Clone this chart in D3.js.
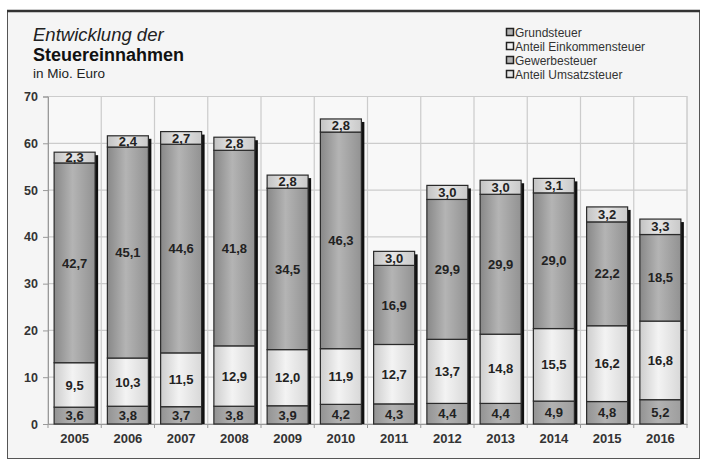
<!DOCTYPE html>
<html>
<head>
<meta charset="utf-8">
<script src="https://cdn.jsdelivr.net/npm/d3@7"></script>
<style>
  html, body { margin: 0; padding: 0; background: #ffffff; }
  svg { display: block; font-family: "Liberation Sans", Arial, sans-serif; }
</style>
</head>
<body>
<svg id="chart" width="702" height="464"></svg>
<script>
// Steuereinnahmen je Jahr, in Mio. Euro
const years = ["2005","2006","2007","2008","2009","2010","2011","2012","2013","2014","2015","2016"];
const grundsteuer      = [3.6, 3.8, 3.7, 3.8, 3.9, 4.2, 4.3, 4.4, 4.4, 4.9, 4.8, 5.2];
const einkommensteuer  = [9.5, 10.3, 11.5, 12.9, 12.0, 11.9, 12.7, 13.7, 14.8, 15.5, 16.2, 16.8];
const gewerbesteuer    = [42.7, 45.1, 44.6, 41.8, 34.5, 46.3, 16.9, 29.9, 29.9, 29.0, 22.2, 18.5];
const umsatzsteuer     = [2.3, 2.4, 2.7, 2.8, 2.8, 2.8, 3.0, 3.0, 3.0, 3.1, 3.2, 3.3];
const seriesNames = ["Grundsteuer", "Anteil Einkommensteuer", "Gewerbesteuer", "Anteil Umsatzsteuer"];
const yTicks = [0, 10, 20, 30, 40, 50, 60, 70];

const keys = ["g", "e", "w", "u"];
const rows = years.map((y, i) => ({
  year: y, g: grundsteuer[i], e: einkommensteuer[i], w: gewerbesteuer[i], u: umsatzsteuer[i]
}));
const stacked = d3.stack().keys(keys)(rows);

const svg = d3.select("#chart");

// outer frame
svg.append("rect").attr("x", 7.5).attr("y", 11).attr("width", 692).attr("height", 447.5)
  .attr("fill", "#f5f5f5").attr("stroke", "#555").attr("stroke-width", 1);
svg.append("line").attr("x1", 7).attr("x2", 700).attr("y1", 11).attr("y2", 11)
  .attr("stroke", "#333").attr("stroke-width", 2.5);

const plot = { left: 48, right: 687, top: 96.5, bottom: 424 };
const x = d3.scaleBand().domain(years).range([plot.left, plot.right]).paddingInner(0).paddingOuter(0);
const y = d3.scaleLinear().domain([0, 70]).range([plot.bottom, plot.top]);

// gradients: darker at the bar edges, lighter in the middle
const defs = svg.append("defs");
const fills = [
  ["#939393", "#b2b2b2", "#9e9e9e"],  // Grundsteuer
  ["#cdcdcd", "#f3f3f3", "#d8d8d8"],  // Anteil Einkommensteuer
  ["#888888", "#b4b4b4", "#929292"],  // Gewerbesteuer
  ["#c2c2c2", "#e6e6e6", "#c9c9c9"]   // Anteil Umsatzsteuer
];
fills.forEach((c, i) => {
  const g = defs.append("linearGradient").attr("id", "grad" + i)
    .attr("x1", "0%").attr("x2", "100%").attr("y1", "0%").attr("y2", "0%");
  g.append("stop").attr("offset", "0%").attr("stop-color", c[0]);
  g.append("stop").attr("offset", "45%").attr("stop-color", c[1]);
  g.append("stop").attr("offset", "100%").attr("stop-color", c[2]);
});

// plot background
svg.append("rect").attr("x", plot.left).attr("y", plot.top)
  .attr("width", plot.right - plot.left).attr("height", plot.bottom - plot.top)
  .attr("fill", "#f8f8f8").attr("stroke", "#b8b8b8");

// horizontal grid
svg.append("g").selectAll("line").data(yTicks.filter(t => t > 0)).join("line")
  .attr("x1", plot.left).attr("x2", plot.right)
  .attr("y1", d => y(d)).attr("y2", d => y(d))
  .attr("stroke", "#cccccc").attr("stroke-width", 1.2);

// vertical grid at category boundaries
svg.append("g").selectAll("line").data(years.slice(1)).join("line")
  .attr("x1", d => x(d)).attr("x2", d => x(d))
  .attr("y1", plot.top).attr("y2", plot.bottom)
  .attr("stroke", "#cccccc").attr("stroke-width", 1.2);

// y axis
const yAxis = d3.axisLeft(y).tickValues(yTicks).tickSize(5).tickPadding(5).tickFormat(d3.format("d"));
const ya = svg.append("g").attr("transform", `translate(${plot.left},0)`).call(yAxis);
ya.select(".domain").attr("stroke", "#999");
ya.selectAll(".tick line").attr("stroke", "#999");
ya.selectAll("text").attr("font-size", 12.5).attr("font-weight", "bold").attr("fill", "#333");

// x axis
const xAxis = d3.axisBottom(x).tickSize(0).tickPadding(10);
const xa = svg.append("g").attr("transform", `translate(0,${plot.bottom})`).call(xAxis);
xa.select(".domain").attr("stroke", "#999");
xa.selectAll("text").attr("font-size", 13).attr("font-weight", "bold").attr("fill", "#333");
svg.append("g").selectAll("line").data(years.concat(["end"])).join("line")
  .attr("x1", (d, i) => plot.left + i * x.step()).attr("x2", (d, i) => plot.left + i * x.step())
  .attr("y1", plot.bottom).attr("y2", plot.bottom + 4)
  .attr("stroke", "#999");

// bars
const barW = 41;
const barX = d => x(d.data.year) + (x.bandwidth() - barW) / 2;

// drop shadow behind each whole bar
svg.append("g").selectAll("rect").data(rows).join("rect")
  .attr("x", d => x(d.year) + (x.bandwidth() - barW) / 2 + 3)
  .attr("y", d => y(d.g + d.e + d.w + d.u) + 3)
  .attr("width", barW)
  .attr("height", d => plot.bottom - y(d.g + d.e + d.w + d.u) - 3)
  .attr("fill", "#111");

const layers = svg.append("g").selectAll("g").data(stacked).join("g");
layers.selectAll("rect").data((s, i) => s.map(p => ({ p, i }))).join("rect")
  .attr("x", d => barX(d.p))
  .attr("y", d => y(d.p[1]))
  .attr("width", barW)
  .attr("height", d => y(d.p[0]) - y(d.p[1]))
  .attr("fill", d => `url(#grad${d.i})`)
  .attr("stroke", "#2a2a2a").attr("stroke-width", 1.2);

// value labels
const fmt = v => v.toFixed(1).replace(".", ",");
layers.selectAll("text").data((s, i) => s.map(p => ({ p, i, key: s.key }))).join("text")
  .attr("x", d => barX(d.p) + barW / 2)
  .attr("y", d => (y(d.p[0]) + y(d.p[1])) / 2)
  .attr("dy", "0.36em")
  .attr("text-anchor", "middle")
  .attr("font-size", 13).attr("font-weight", "bold").attr("fill", "#222")
  .text(d => fmt(d.p.data[d.key]));

// title
svg.append("text").attr("x", 33).attr("y", 41).attr("font-size", 18.5).attr("font-style", "italic")
  .attr("fill", "#222").text("Entwicklung der");
svg.append("text").attr("x", 33).attr("y", 61).attr("font-size", 18).attr("font-weight", "bold")
  .attr("fill", "#111").text("Steuereinnahmen");
svg.append("text").attr("x", 33).attr("y", 78).attr("font-size", 13.5)
  .attr("fill", "#222").text("in Mio. Euro");

// legend
const legend = svg.append("g").attr("transform", "translate(506,28)");
const li = legend.selectAll("g").data(seriesNames).join("g")
  .attr("transform", (d, i) => `translate(0,${i * 14})`);
li.append("rect").attr("x", 0.5).attr("y", 0.5).attr("width", 7).attr("height", 7)
  .attr("fill", (d, i) => fills[i][1]).attr("stroke", "#222").attr("stroke-width", 1.5);
li.append("text").attr("x", 9).attr("y", 8.5).attr("font-size", 12).attr("fill", "#333").text(d => d);
</script>
</body>
</html>
